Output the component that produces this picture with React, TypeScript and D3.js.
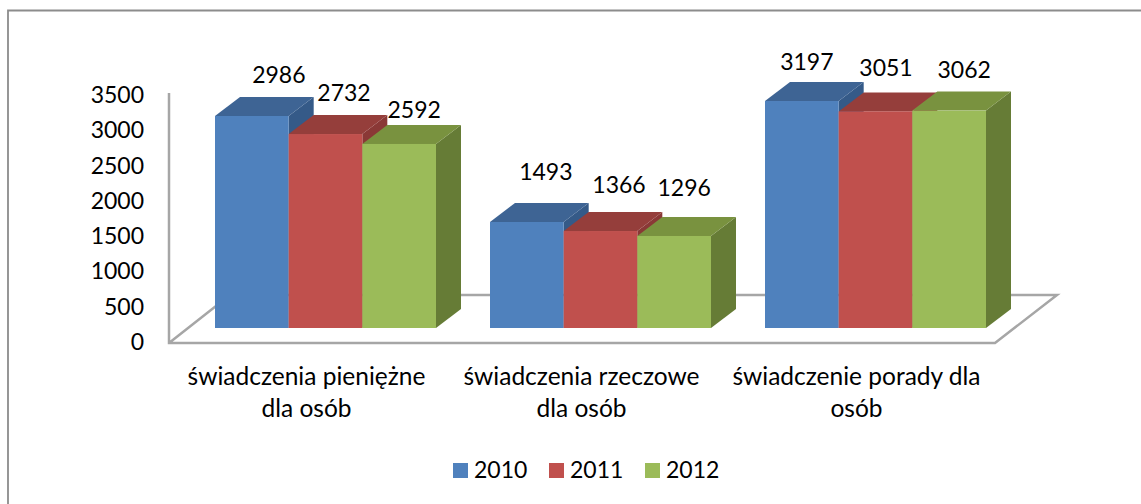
import React from "react";
import * as d3 from "d3";

const categories = [
  ["świadczenia pieniężne", "dla osób"],
  ["świadczenia rzeczowe", "dla osób"],
  ["świadczenie porady dla", "osób"],
];
const years = ["2010", "2011", "2012"];
const values2010 = [2986, 1493, 3197];
const values2011 = [2732, 1366, 3051];
const values2012 = [2592, 1296, 3062];
const yTicks = [0, 500, 1000, 1500, 2000, 2500, 3000, 3500];

const seriesValues = [values2010, values2011, values2012];
const frontColors = ["#4f81bd", "#c0504d", "#9bbb59"];
const topColors = ["#3e6494", "#953e3b", "#79923f"];
const sideColors = ["#355a88", "#8a3836", "#667c36"];
// hand placed data labels, [category][series], relative to the bar's top centre
const labelDy = [
  [-32.5, -33, -26],
  [-42, -38, -40],
  [-31, -35, -33],
];
const labelDx = [
  [27, 18.5, 15],
  [19, 18.5, 10],
  [5, 10.5, 15],
];

const FONT = "Lato, Carlito, sans-serif";
const DX = 25;
const DY = 19;

const App = () => {
  const width = 1141;
  const height = 504;

  // bars sit mid-depth on the floor, hence two baselines
  const floorY = 343;
  const baseY = 328;
  const yTickLabel = d3.scaleLinear().domain([0, 3500]).range([350, 103]);
  const yBar = d3.scaleLinear().domain([0, 3500]).range([baseY, baseY - 248.5]);

  const x0 = d3.scalePoint<number>().domain([0, 1, 2]).range([215, 765]);
  const x1 = d3.scaleBand().domain(years).range([0, 221]);

  const floorPath = d3.path();
  floorPath.moveTo(169, 93);
  floorPath.lineTo(169, floorY);
  floorPath.lineTo(995, floorY);
  floorPath.lineTo(1057, 295);
  floorPath.lineTo(230, 295);
  floorPath.lineTo(169, floorY);

  const legendX = [453, 549, 645];

  return (
    <svg
      width={width}
      height={height}
      style={{ position: "absolute", left: 0, top: 0, background: "#fff" }}
      fontFamily={FONT}
    >
      <path d={`M8,${height}V10.5H${width}`} fill="none" stroke="#8c8c8c" strokeWidth={1.8} />

      <path d={floorPath.toString()} fill="none" stroke="#a6a6a6" strokeWidth={2.5} />

      {yTicks.map(t => (
        <text key={t} x={144} y={yTickLabel(t)} textAnchor="end" fontSize={23} fill="#000">
          {t}
        </text>
      ))}

      {categories.map((_, c) =>
        years.map((year, s) => {
          const v = seriesValues[s][c];
          const x = x0(c) + x1(year);
          const w = x1.bandwidth();
          const top = yBar(v);
          return (
            <g key={year + c}>
              <path
                d={`M${x + w},${top}L${x + w + DX},${top - DY}V${baseY - DY}L${x + w},${baseY}Z`}
                fill={sideColors[s]}
              />
              <path
                d={`M${x},${top}L${x + DX},${top - DY}H${x + w + DX}L${x + w},${top}Z`}
                fill={topColors[s]}
              />
              <rect x={x} y={top} width={w} height={baseY - top} fill={frontColors[s]} />
            </g>
          );
        })
      )}

      {categories.map((_, c) =>
        years.map((year, s) => {
          const v = seriesValues[s][c];
          return (
            <text
              key={year + c}
              x={x0(c) + x1(year) + x1.bandwidth() / 2 + labelDx[c][s]}
              y={yBar(v) + labelDy[c][s]}
              textAnchor="middle"
              fontSize={23}
              fill="#000"
            >
              {v}
            </text>
          );
        })
      )}

      {categories.map((lines, c) =>
        lines.map((line, i) => (
          <text
            key={line}
            x={x0(c) + 91.5}
            y={385 + i * 32}
            textAnchor="middle"
            fontSize={24.5}
            fill="#000"
          >
            {line}
          </text>
        ))
      )}

      {years.map((year, s) => (
        <g key={year}>
          <rect x={legendX[s]} y={463} width={15} height={15} fill={frontColors[s]} />
          <text x={legendX[s] + 21} y={478} fontSize={23} fill="#000">
            {year}
          </text>
        </g>
      ))}
    </svg>
  );
};

export default App;
